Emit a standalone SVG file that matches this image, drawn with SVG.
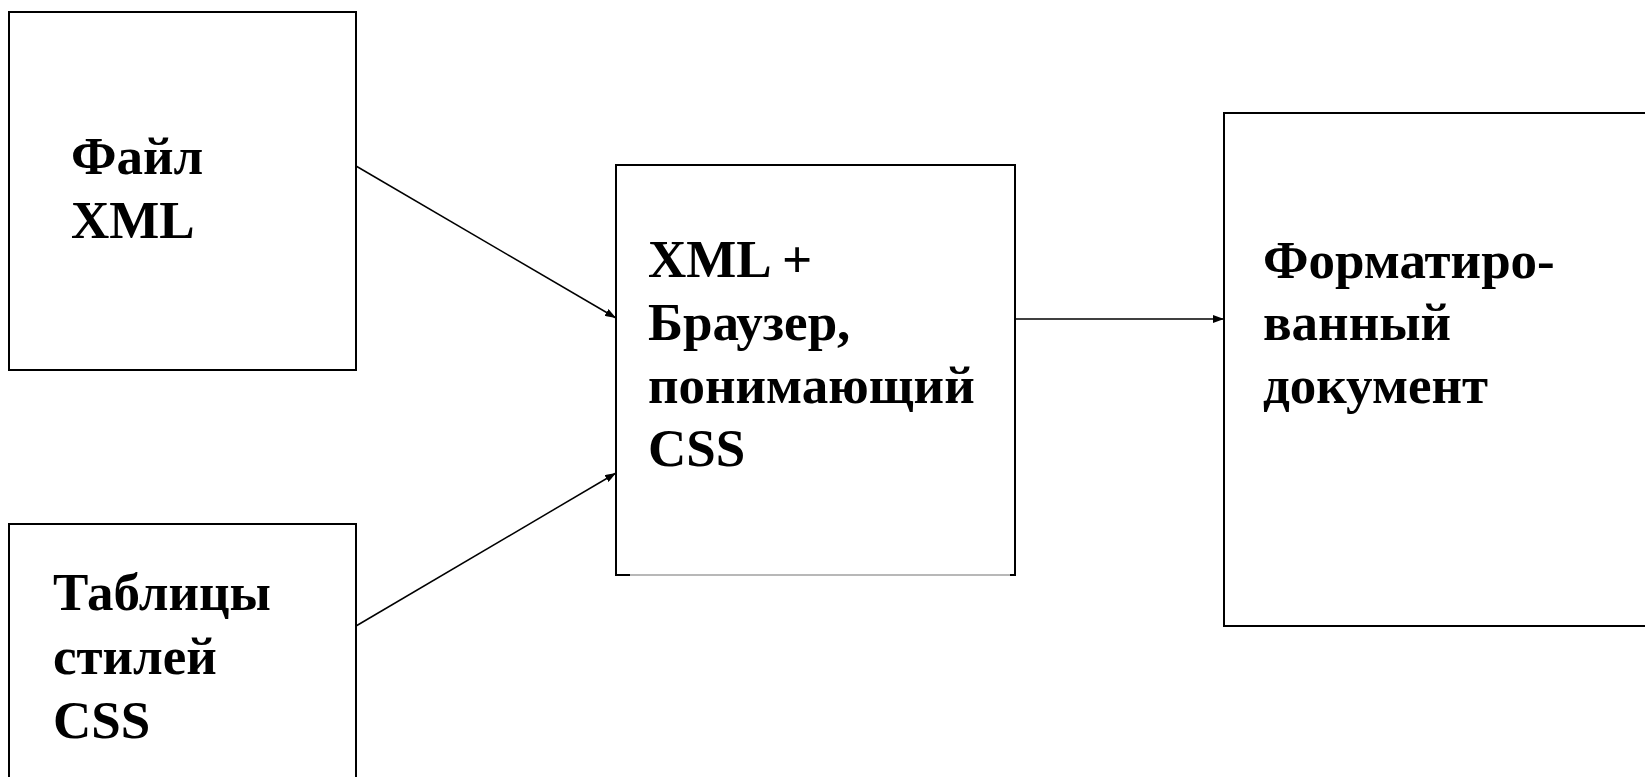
<svg xmlns="http://www.w3.org/2000/svg" width="1645" height="777" viewBox="0 0 1645 777">
  <style>
    .box { fill: #ffffff; stroke: #000000; stroke-width: 2; }
    .side { fill: none; stroke: #000000; stroke-width: 2; }
    .edge { fill: none; stroke: #000000; stroke-width: 1.5; }
    .label { font-family: "Liberation Serif", "Times New Roman", serif; font-weight: bold; font-size: 53px; fill: #000000; }
  </style>
  <defs>
    <marker id="arrow" viewBox="0 0 11 8" refX="11" refY="4" markerWidth="11" markerHeight="8" markerUnits="userSpaceOnUse" orient="auto">
      <path d="M0,0 L11,4 L0,8 Z" fill="#000000"/>
    </marker>
  </defs>
  <rect width="1645" height="777" fill="#ffffff"/>

  <g id="connectors">
    <line class="edge" x1="356" y1="166" x2="616" y2="318" marker-end="url(#arrow)"/>
    <line class="edge" x1="356" y1="626" x2="616" y2="473" marker-end="url(#arrow)"/>
    <line class="edge" x1="1015" y1="319" x2="1224" y2="319" marker-end="url(#arrow)"/>
  </g>

  <g id="node-xml-file">
    <rect class="box" x="9" y="12" width="347" height="358"/>
    <text class="label"><tspan x="71" y="174">Файл</tspan><tspan x="71" y="238">XML</tspan></text>
  </g>

  <g id="node-css-sheets">
    <rect class="box" x="9" y="524" width="347" height="270"/>
    <text class="label"><tspan x="53" y="610">Таблицы</tspan><tspan x="53" y="674">стилей</tspan><tspan x="53" y="738">CSS</tspan></text>
  </g>

  <g id="node-browser">
    <rect x="616" y="165" width="399" height="410" fill="#ffffff"/>
    <path class="side" d="M630,575 H616 V165 H1015 V575 H1010"/>
    <line x1="630" y1="575" x2="1010" y2="575" stroke="#a0a0a0" stroke-width="1.5"/>
    <text class="label"><tspan x="648" y="277">XML +</tspan><tspan x="648" y="340">Браузер,</tspan><tspan x="648" y="403">понимающий</tspan><tspan x="648" y="466">CSS</tspan></text>
  </g>

  <g id="node-formatted-doc">
    <rect class="box" x="1224" y="113" width="430" height="513"/>
    <text class="label"><tspan x="1263" y="278">Форматиро-</tspan><tspan x="1263" y="340">ванный</tspan><tspan x="1263" y="403">документ</tspan></text>
  </g>
</svg>
